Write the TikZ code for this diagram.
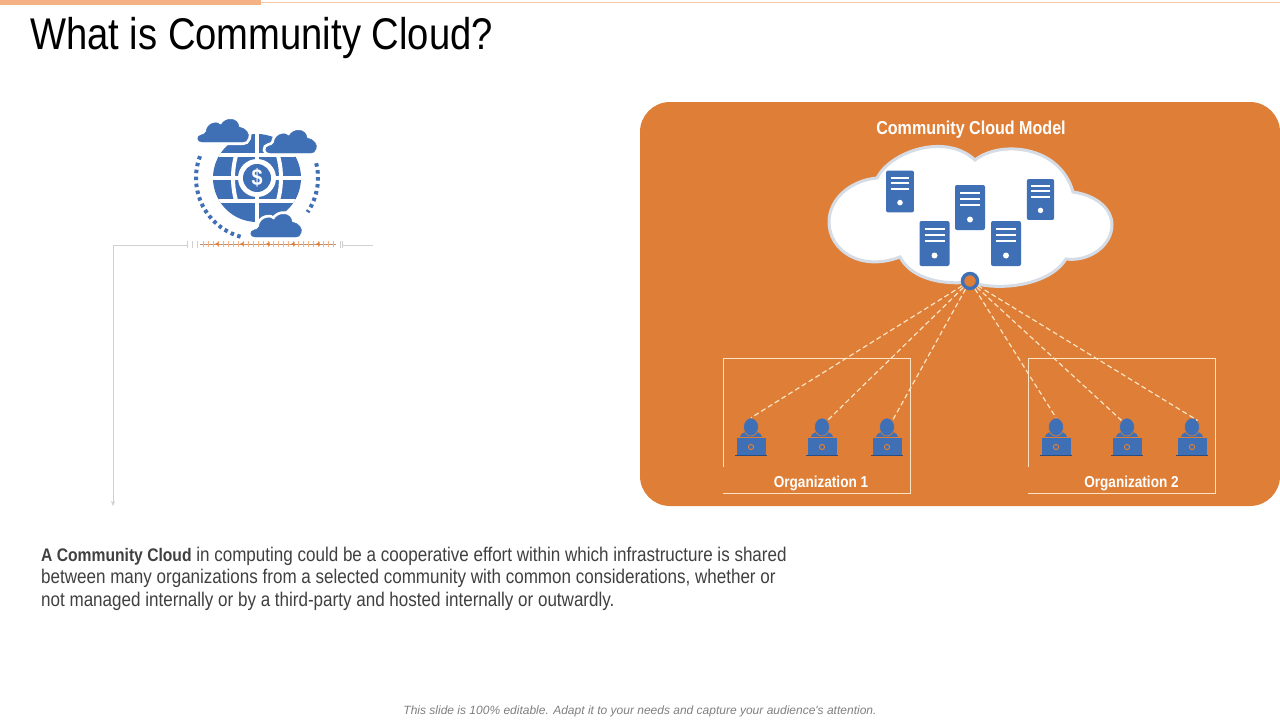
\documentclass[tikz,border=0pt]{standalone}
\usepackage{fontspec}
\setmainfont{Liberation Sans}[FakeStretch=0.86]
\newfontfamily\widesans{Liberation Sans}
\usetikzlibrary{arrows.meta,shapes.geometric}
\definecolor{panelorange}{HTML}{DF7F37}
\definecolor{iconblue}{HTML}{3F6FB5}
\definecolor{creamline}{HTML}{FBE3C4}
\definecolor{barorange}{HTML}{F4B183}
\definecolor{callgray}{HTML}{D0D0D0}
\definecolor{cloudedge}{HTML}{D6DCE5}
\tikzset{x=1pt,y=-1pt,
    titletext/.style={anchor=west,inner sep=0pt,font=\fontsize{44.4}{44.4}\selectfont,text=black},
    bodytext/.style={anchor=north west,inner sep=0pt,align=left,text=black!75,
        font=\fontsize{19.8}{22.6}\selectfont},
    panellabel/.style={inner sep=0pt,text=white,font=\bfseries\fontsize{15.8}{15.8}\selectfont},
    headnode/.style={ellipse,fill=iconblue,draw=panelorange,line width=.6pt,minimum width=15pt,minimum height=18pt,inner sep=0pt},
    linkline/.style={draw=creamline,line width=1.2pt,dash pattern=on 5pt off 3pt},
    orgline/.style={draw=creamline,line width=1pt},
    callout/.style={draw=callgray,line width=.8pt},
    server/.pic={
        \fill[iconblue,rounded corners=2pt] (-15,-22.5) rectangle (15,22.5);
        \foreach \y in {-15,-9,-3}
            \draw[white,line width=2pt] (-10,\y) -- (10,\y);
        \fill[white] (0,12) circle (3);
    },
    person/.pic={
        \fill[iconblue] (-11,-3) .. controls (-11,-7) and (-4,-9) .. (0,-9)
            .. controls (4,-9) and (11,-7) .. (11,-3) -- cycle;
        \draw[iconblue,fill=iconblue,draw=panelorange,line width=.6pt] (-15,-3) rectangle (15,15);
        \fill[iconblue!70!black] (-16,15) rectangle (16,16.2);
        \draw[panelorange,line width=1pt] (0,7) circle (2.6);
    },
    minicloud/.pic={
        \draw[iconblue,fill=iconblue,preaction={draw=white,line width=6pt}]
            (-21,11) .. controls (-26,11) and (-27,5) .. (-22,4)
            .. controls (-20,3.5) and (-18,3) .. (-17,1)
            .. controls (-16,-9) and (-5,-10) .. (-2,-6)
            .. controls (2,-14) and (15,-14) .. (16,-4)
            .. controls (23,-3) and (27,3) .. (25,7)
            .. controls (24,10) and (22,11) .. (20,11) -- cycle;
    },
}
\begin{document}
\begin{tikzpicture}
\useasboundingbox (0,0) rectangle (1280,720);
\fill[white] (0,0) rectangle (1280,720);
% top bar and title
\fill[barorange] (0,0) rectangle (261,5);
\draw[barorange!70,line width=.8pt] (261,2) -- (1280,2);
\node[titletext] (title) at (30,38) {What is Community Cloud?};
% globe
\fill[iconblue] (257,178) circle (44);
\begin{scope}
\clip (257,178) circle (44);
\foreach \y in {155,178,201}
    \draw[white,line width=4pt] (205,\y) -- (309,\y);
\draw[white,line width=4pt] (257,130) -- (257,226);
\clip (205,155) rectangle (309,201);
\draw[white,line width=4pt] (257,178) ellipse (24 and 46);
\end{scope}
\fill[white] (257,178) circle (19);
\node[circle,fill=iconblue,minimum size=28pt,inner sep=0pt,text=white,
    font=\bfseries\fontsize{23}{23}\selectfont] (dollar) at (257,178) {\$};
\draw[iconblue,line width=4pt,dash pattern=on 3.5pt off 3.5pt]
    (257,178) ++(201:61) arc[start angle=201,end angle=105,radius=61];
\draw[iconblue,line width=4pt,dash pattern=on 3.5pt off 3.5pt]
    (257,178) ++(-14:61) arc[start angle=-14,end angle=34,radius=61];
\pic at (223,131) {minicloud};
\pic at (291,142) {minicloud};
\pic at (276,226) {minicloud};
% callout rule
\coordinate (calltop) at (113,245);
\coordinate (callend) at (113,506);
\coordinate (callleft) at (187,245);
\coordinate (callright) at (342,245);
\coordinate (callfar) at (373,245);
\draw[callout,-{Stealth[length=5pt,width=4pt]}] (callleft) -- (calltop) -- (callend);
\draw[callout] (callright) -- (callfar);
\foreach \x in {187,192,197,340,342}
    \draw[callout] (\x,241) -- (\x,248);
\draw[barorange!80!black,line width=.7pt] (200,244) -- (336,244);
\foreach \x in {203,208,...,335}
    \draw[barorange,line width=.6pt] (\x,241) -- (\x,247);
\foreach \x in {217,242,268,293,318}
    \fill[panelorange] (\x-2,244) -- (\x+1.5,242) -- (\x+1.5,246) -- cycle;
% orange panel
\fill[panelorange,rounded corners=30pt] (640,102) rectangle (1280,506);
\node[panellabel,font=\bfseries\fontsize{18.7}{18.7}\selectfont] (model) at (971,130) {Community Cloud Model};
% big cloud
\draw[fill=white,draw=cloudedge,line width=3pt]
    (877,178) .. controls (890,152) and (945,132) .. (975,160)
    .. controls (1000,140) and (1060,145) .. (1073,192)
    .. controls (1095,195) and (1112,208) .. (1112,225)
    .. controls (1112,245) and (1090,262) .. (1066,259)
    .. controls (1050,285) and (1000,292) .. (970,282)
    .. controls (945,285) and (912,280) .. (900,257)
    .. controls (860,272) and (829,250) .. (829,222)
    .. controls (829,198) and (852,180) .. (877,178) -- cycle;
\pic[scale=.93] at (900,191.5) {server};
\pic at (970,207.5) {server};
\pic[scale=.91] at (1040.5,199.5) {server};
\pic at (934.5,243.5) {server};
\pic at (1006,243.5) {server};
% hub and people
\node[circle,draw=iconblue,line width=3.4pt,fill=panelorange,minimum size=15pt,inner sep=0pt] (hub) at (970,281) {};
\foreach \name/\x in {p1/751,p2/822,p3/887,p4/1056,p5/1127,p6/1192}{
    \pic at (\x,440) {person};
    \node[headnode] (\name) at (\x,427) {};
}
\foreach \name/\side in {p1/north,p2/north east,p3/north east,p4/north,p5/north west,p6/north east}
    \draw[linkline] (hub) -- (\name.\side);
% organisation boxes
\draw[orgline] (723,467) -- (723,358) -- (910,358) -- (910,493) -- (723,493);
\draw[orgline] (1028,467) -- (1028,358) -- (1215,358) -- (1215,493) -- (1028,493);
\node[panellabel] (org1) at (821,483) {Organization 1};
\node[panellabel] (org2) at (1131.5,483) {Organization 2};
% text
\node[bodytext] (body) at (41,546.5) {{\bfseries\fontsize{18.2}{22.6}\selectfont A Community Cloud} in computing could be a cooperative effort within which infrastructure is shared\\
between many organizations from a selected community with common considerations, whether or\\
not managed internally or by a third-party and hosted internally or outwardly.};
\node[inner sep=0pt,text=black!50,font=\widesans\itshape\fontsize{12}{12}\selectfont] (foot) at (640,711)
    {This slide is 100\% editable. Adapt it to your needs and capture your audience's attention.};
\end{tikzpicture}
\end{document}
